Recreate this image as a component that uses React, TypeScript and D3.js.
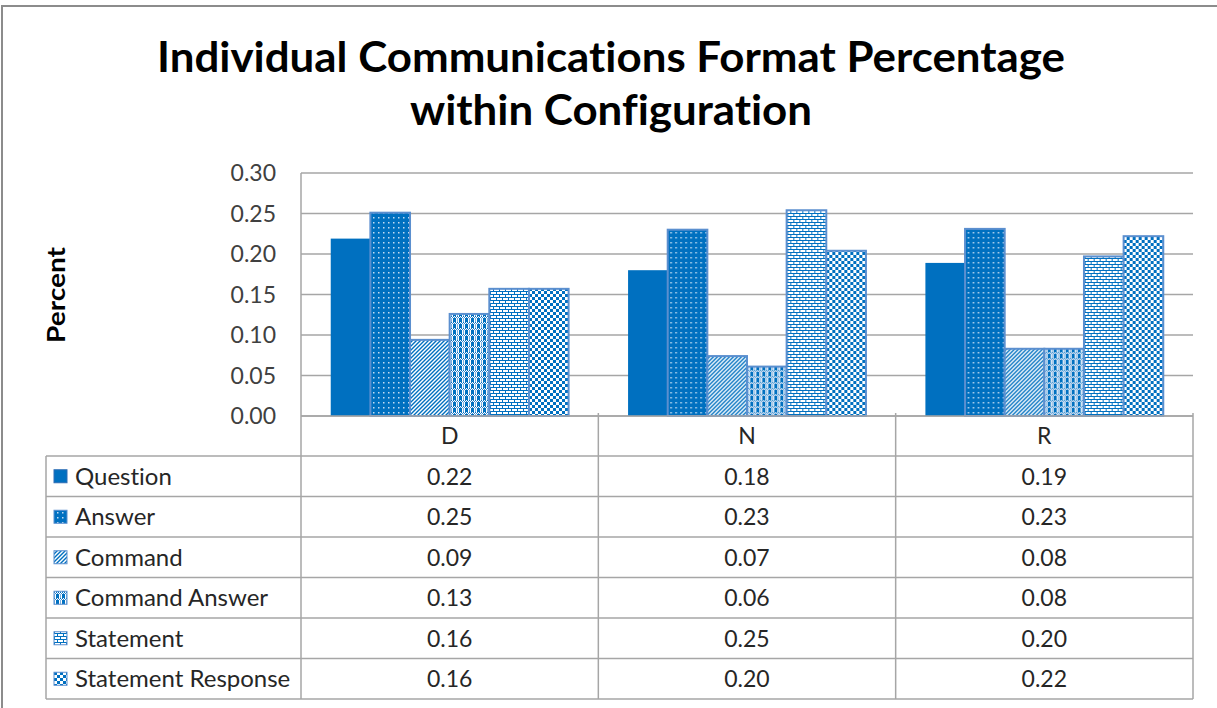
import React from "react";
import * as d3 from "d3";

const categories = ["D", "N", "R"];
const seriesNames = ["Question", "Answer", "Command", "Command Answer", "Statement", "Statement Response"];
const question = [0.219, 0.18, 0.189];
const answer = [0.251, 0.23, 0.231];
const command = [0.094, 0.074, 0.083];
const commandAnswer = [0.126, 0.061, 0.083];
const statement = [0.157, 0.254, 0.197];
const statementResponse = [0.157, 0.204, 0.222];
const yTicks = [0, 0.05, 0.1, 0.15, 0.2, 0.25, 0.3];
const titleLines = ["Individual Communications Format Percentage", "within Configuration"];

const seriesValues = [question, answer, command, commandAnswer, statement, statementResponse];

const W = 1217;
const H = 708;
const BLUE = "#0070C0";
const EDGE = "#5b8fcf";
const GRID = "#a6a6a6";
const FONT = "Lato, 'Open Sans', sans-serif";
const TXT = 23;

const fills = ["url(#pQ)", "url(#pA)", "url(#pC)", "url(#pCA)", "url(#pS)", "url(#pSR)"];

export default function App() {
  const plotLeft = 301;
  const plotRight = 1193;
  const y = d3.scaleLinear().domain([0, 0.3]).range([416, 173]);
  const x0 = d3.scaleBand<string>().domain(categories).range([plotLeft, plotRight]).padding(0);
  const bw = x0.bandwidth() / (seriesNames.length + 1.5);
  const x1 = d3
    .scaleBand<string>()
    .domain(seriesNames)
    .range([0.75 * bw, 0.75 * bw + seriesNames.length * bw])
    .padding(0);
  const fmt = d3.format(".2f");

  const tableTop = y(0);
  const headerBottom = 456;
  const tableBottom = 699;
  const rowH = (tableBottom - headerBottom) / seriesNames.length;
  const legendLeft = 46;

  return (
    <svg
      width={W}
      height={H}
      style={{ position: "absolute", left: 0, top: 0, background: "#fff", fontVariantLigatures: "none" }}
      fontFamily={FONT}
    >
      <defs>
        <pattern id="pQ" patternUnits="userSpaceOnUse" width={4} height={4}>
          <rect width={4} height={4} fill={BLUE} />
        </pattern>
        <pattern id="pA" patternUnits="userSpaceOnUse" width={5} height={5}>
          <rect width={5} height={5} fill={BLUE} />
          <rect x={2} y={2} width={1.5} height={1.5} fill="#c0dbf3" />
        </pattern>
        <pattern id="pC" patternUnits="userSpaceOnUse" width={4} height={4}>
          <rect width={4} height={4} fill="#fff" />
          <path d="M-1,1 L1,-1 M0,4 L4,0 M3,5 L5,3" stroke={BLUE} strokeWidth={1.4} />
        </pattern>
        <pattern id="pCA" patternUnits="userSpaceOnUse" width={6} height={6}>
          <rect width={6} height={6} fill="#fff" />
          <rect x={0} y={0} width={1} height={4} fill="#7fb0e0" />
          <rect x={2} y={0} width={3} height={4} fill={BLUE} />
          <rect x={0} y={4} width={1} height={1} fill={BLUE} />
          <rect x={2} y={4} width={1} height={1} fill={BLUE} />
          <rect x={4} y={4} width={1} height={1} fill={BLUE} />
          <rect x={1} y={5} width={1} height={1} fill="#3f8ad0" />
          <rect x={3} y={5} width={1} height={1} fill="#3f8ad0" />
          <rect x={5} y={5} width={1} height={1} fill="#3f8ad0" />
        </pattern>
        <pattern id="pS" patternUnits="userSpaceOnUse" width={6} height={6}>
          <rect width={6} height={6} fill="#fff" />
          <rect x={0} y={0} width={6} height={1} fill={BLUE} />
          <rect x={0} y={3} width={6} height={1} fill={BLUE} />
          <rect x={0} y={0} width={1} height={3} fill={BLUE} />
          <rect x={3} y={3} width={1} height={3} fill={BLUE} />
        </pattern>
        <pattern id="pSR" patternUnits="userSpaceOnUse" width={6} height={6}>
          <rect width={6} height={6} fill="#fff" />
          <rect x={0} y={0} width={3} height={3} fill={BLUE} />
          <rect x={3} y={3} width={3} height={3} fill={BLUE} />
        </pattern>
      </defs>

      {/* outer chart border */}
      <rect x={2} y={6} width={W + 20} height={H + 20} fill="#fff" stroke="#8c8c8c" strokeWidth={2} />

      {/* title */}
      <text x={611} y={72} textAnchor="middle" fontSize={42} fontWeight={700} fill="#000" textLength={908} lengthAdjust="spacingAndGlyphs">
        {titleLines[0]}
      </text>
      <text x={611} y={125} textAnchor="middle" fontSize={42} fontWeight={700} fill="#000" textLength={402} lengthAdjust="spacingAndGlyphs">
        {titleLines[1]}
      </text>

      {/* y axis title */}
      <text
        transform={`translate(65,295) rotate(-90)`}
        textAnchor="middle"
        fontSize={25}
        fontWeight={700}
        fill="#000"
        textLength={96}
        lengthAdjust="spacingAndGlyphs"
      >
        Percent
      </text>

      {/* gridlines */}
      {yTicks.map((t) => (
        <line key={t} x1={plotLeft} x2={plotRight} y1={y(t)} y2={y(t)} stroke={GRID} strokeWidth={1.5} />
      ))}
      {/* tick labels */}
      {yTicks.map((t) => (
        <text key={"l" + t} x={276} y={y(t)} dy="0.36em" textAnchor="end" fontSize={TXT} fill="#404040">
          {fmt(t)}
        </text>
      ))}

      {/* bars */}
      {categories.map((c, ci) => (
        <g key={c} transform={`translate(${x0(c)},0)`}>
          {seriesNames.map((s, si) => {
            const v = seriesValues[si][ci];
            return (
              <rect
                key={s}
                x={x1(s)}
                y={y(v)}
                width={x1.bandwidth()}
                height={y(0) - y(v)}
                fill={fills[si]}
                stroke={si === 0 ? "none" : EDGE}
                strokeWidth={2}
              />
            );
          })}
        </g>
      ))}

      {/* data table */}
      <g stroke={GRID} strokeWidth={1.5}>
        <line x1={plotLeft} x2={plotLeft} y1={y(0.3)} y2={tableBottom} />
        {categories.map((c) => (
          <line key={c} x1={x0(c)! + x0.bandwidth()} x2={x0(c)! + x0.bandwidth()} y1={tableTop - 3} y2={tableBottom} />
        ))}
        <line x1={legendLeft} x2={legendLeft} y1={headerBottom} y2={tableBottom} />
        <line x1={plotLeft} x2={plotRight} y1={tableTop} y2={tableTop} />
        {d3.range(seriesNames.length + 1).map((i) => (
          <line key={i} x1={legendLeft} x2={plotRight} y1={headerBottom + i * rowH} y2={headerBottom + i * rowH} />
        ))}
      </g>

      {categories.map((c) => (
        <text
          key={"h" + c}
          x={x0(c)! + x0.bandwidth() / 2}
          y={(tableTop + headerBottom) / 2}
          dy="0.36em"
          textAnchor="middle"
          fontSize={TXT}
          fill="#262626"
        >
          {c}
        </text>
      ))}

      {seriesNames.map((s, si) => {
        const cy = headerBottom + si * rowH + rowH / 2;
        return (
          <g key={"r" + s}>
            <rect
              x={54}
              y={cy - 6.5}
              width={13}
              height={13}
              fill={fills[si]}
              stroke={si === 0 ? "#2e6db5" : EDGE}
              strokeWidth={1}
            />
            <text x={75} y={cy} dy="0.36em" fontSize={24} fill="#262626">
              {s}
            </text>
            {categories.map((c, ci) => (
              <text
                key={c}
                x={x0(c)! + x0.bandwidth() / 2}
                y={cy}
                dy="0.36em"
                textAnchor="middle"
                fontSize={TXT}
                fill="#262626"
              >
                {fmt(seriesValues[si][ci])}
              </text>
            ))}
          </g>
        );
      })}
    </svg>
  );
}
